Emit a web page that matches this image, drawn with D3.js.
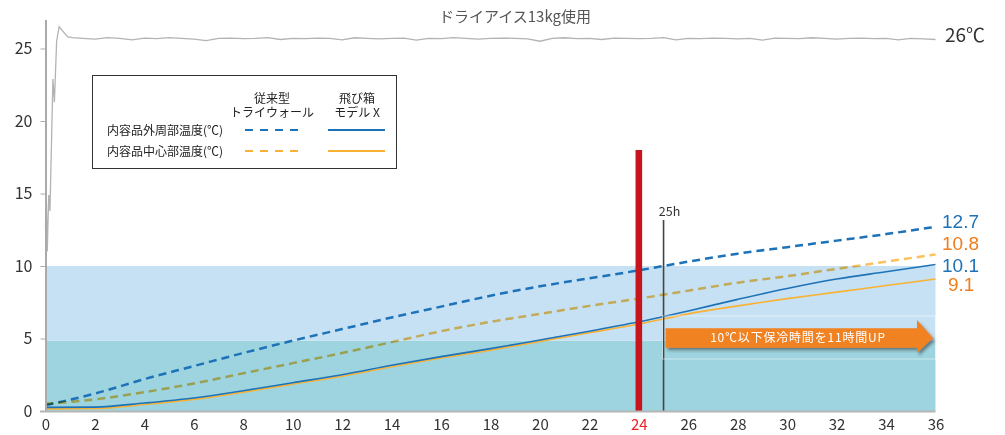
<!DOCTYPE html>
<html>
<head>
<meta charset="utf-8">
<script src="https://cdn.jsdelivr.net/npm/d3@7"></script>
<style>
  body { margin: 0; background: #fff; }
  svg { display: block; font-family: "Noto Sans CJK JP", "Noto Sans", sans-serif; }
</style>
</head>
<body>
<script>
// Chart settings
const width = 1005;
const height = 435;

// Data
const hours = [0, 2, 4, 6, 8, 10, 12, 14, 16, 18, 20, 22, 24, 26, 28, 30, 32, 34, 36];
const triwallOuter = [0.4, 1.2, 2.2, 3.1, 4.0, 4.85, 5.65, 6.45, 7.2, 7.95, 8.6, 9.15, 9.7, 10.3, 10.85, 11.3, 11.75, 12.2, 12.7];
const triwallCenter = [0.5, 0.8, 1.3, 1.9, 2.6, 3.3, 4.0, 4.75, 5.5, 6.15, 6.7, 7.25, 7.75, 8.3, 8.85, 9.3, 9.8, 10.3, 10.8];
const modelXOuter = [0.25, 0.27, 0.55, 0.9, 1.4, 1.95, 2.5, 3.15, 3.75, 4.3, 4.9, 5.5, 6.15, 6.9, 7.7, 8.45, 9.1, 9.6, 10.1];
const modelXCenter = [0.15, 0.17, 0.45, 0.8, 1.3, 1.85, 2.4, 3.05, 3.65, 4.2, 4.8, 5.4, 6.0, 6.7, 7.25, 7.75, 8.2, 8.65, 9.1];

// dry ice ambient temperature: start-up then every 0.5 h from 1.5 h
const dryIceStartT = [0, 0.02, 0.07, 0.13, 0.18, 0.3, 0.36, 0.45, 0.55, 0.7, 0.9, 1.1];
const dryIceStartV = [12.5, 15.9, 11.0, 14.9, 13.8, 22.9, 21.3, 25.5, 26.5, 26.2, 25.8, 25.75];
const dryIceV = [25.7, 25.65, 25.75, 25.7, 25.6, 25.72, 25.68, 25.75, 25.7, 25.65,
  25.55, 25.7, 25.72, 25.68, 25.7, 25.75, 25.62, 25.7, 25.68, 25.72,
  25.7, 25.6, 25.74, 25.7, 25.66, 25.7, 25.72, 25.58, 25.7, 25.68,
  25.75, 25.7, 25.64, 25.7, 25.72, 25.7, 25.66, 25.5, 25.7, 25.74,
  25.68, 25.7, 25.62, 25.72, 25.7, 25.68, 25.7, 25.75, 25.6, 25.7,
  25.68, 25.72, 25.7, 25.66, 25.7, 25.58, 25.72, 25.7, 25.68, 25.74,
  25.7, 25.64, 25.7, 25.72, 25.68, 25.7, 25.6, 25.7, 25.66, 25.62];

const xTicks = [0, 2, 4, 6, 8, 10, 12, 14, 16, 18, 20, 22, 24, 26, 28, 30, 32, 34, 36];
const yTicks = [0, 5, 10, 15, 20, 25];
const bands = [[0, 4.85, '#9dd4df'], [4.85, 10, '#c6e1f4']];

const blue = '#1d72b8';
const orange = '#f9b233';

const svg = d3.select('body')
              .append('svg')
              .attr('width', width)
              .attr('height', height);

const x = d3.scaleLinear().domain([0, 36]).range([45.5, 935.5]);
const y = d3.scaleLinear().domain([0, 27]).range([411, 19.5]);

// Background bands
svg.selectAll('rect.band')
   .data(bands)
   .enter()
   .append('rect')
   .attr('class', 'band')
   .attr('x', x(0))
   .attr('width', x(36) - x(0))
   .attr('y', d => y(d[1]))
   .attr('height', d => y(d[0]) - y(d[1]))
   .attr('fill', d => d[2]);

// Dry ice line
const dryIce = dryIceStartT.map((t, i) => [t, dryIceStartV[i]])
  .concat(dryIceV.map((v, i) => [1.5 + i * 0.5, v]));

const line = d3.line().x(d => x(d[0])).y(d => y(d[1]));
const smooth = d3.line().x(d => x(d[0])).y(d => y(d[1])).curve(d3.curveMonotoneX);

svg.append('path')
   .attr('d', line(dryIce))
   .attr('fill', 'none')
   .attr('stroke', '#b3b3b3')
   .attr('stroke-width', 1.3);

// Temperature series
const series = [
  { values: triwallOuter, color: blue, dash: '8,5', w: 2.5, blend: false },
  { values: triwallCenter, color: orange, dash: '8,5', w: 2.5, blend: true },
  { values: modelXCenter, color: orange, dash: null, w: 1.6, blend: false },
  { values: modelXOuter, color: blue, dash: null, w: 1.6, blend: false }
];

svg.selectAll('path.series')
   .data(series)
   .enter()
   .append('path')
   .attr('class', 'series')
   .attr('d', s => smooth(hours.map((h, i) => [h, s.values[i]])))
   .attr('fill', 'none')
   .attr('stroke', s => s.color)
   .attr('stroke-width', s => s.w)
   .attr('stroke-dasharray', s => s.dash)
   .style('mix-blend-mode', s => s.blend ? 'multiply' : null)
   .attr('opacity', s => s.blend ? 0.8 : 1);

// 24h red bar and 25h marker
svg.append('rect')
   .attr('x', x(24) - 3.3)
   .attr('width', 6.6)
   .attr('y', 150)
   .attr('height', y(0) - 150)
   .attr('fill', '#c8151d');

svg.append('line')
   .attr('x1', x(25)).attr('x2', x(25))
   .attr('y1', 220).attr('y2', y(0))
   .attr('stroke', '#444')
   .attr('stroke-width', 1.6);

svg.append('text')
   .attr('x', x(25) + 6)
   .attr('y', 216)
   .attr('text-anchor', 'middle')
   .style('font-size', '12.5px')
   .style('fill', '#333')
   .text('25h');

// Arrow annotation
const defs = svg.append('defs');
const f = defs.append('filter').attr('id', 'shadow')
              .attr('x', '-5%').attr('y', '-30%').attr('width', '115%').attr('height', '170%');
f.append('feDropShadow')
 .attr('dx', 2).attr('dy', 2.5).attr('stdDeviation', 1.4)
 .attr('flood-color', '#333').attr('flood-opacity', 0.55);

svg.append('rect')
   .attr('x', 662.5).attr('y', 316)
   .attr('width', x(36) - 662.5).attr('height', 43)
   .attr('fill', 'none')
   .attr('stroke', '#fff')
   .attr('stroke-opacity', 0.5);

const ax0 = x(25) + 2, ax1 = 917, tip = 933, ay = 338;
svg.append('path')
   .attr('d', `M${ax0},${ay - 9.7}H${ax1}V${ay - 18}L${tip},${ay}L${ax1},${ay + 15}V${ay + 9.7}H${ax0}Z`)
   .attr('fill', '#f08224')
   .attr('filter', 'url(#shadow)');

svg.append('text')
   .attr('x', 798)
   .attr('y', 342)
   .attr('text-anchor', 'middle')
   .style('font-size', '12px')
   .style('letter-spacing', '0.8px')
   .style('fill', '#fff')
   .text('10℃以下保冷時間を11時間UP');

// Axes
svg.append('g')
   .attr('transform', `translate(${x(0)}, 0)`)
   .call(d3.axisLeft(y).tickValues(yTicks).tickSize(5).tickSizeOuter(0).tickPadding(8))
   .call(g => g.select('.domain').attr('stroke', '#aaa').attr('stroke-width', 2))
   .call(g => g.selectAll('.tick line').attr('stroke', '#aaa'))
   .call(g => g.selectAll('.tick text')
               .style('font-size', '16px')
               .style('fill', '#333')
               .style('font-family', '"Noto Sans CJK JP", sans-serif'));

svg.append('line')
   .attr('x1', 40).attr('x2', x(36))
   .attr('y1', y(0) + 0.5).attr('y2', y(0) + 0.5)
   .attr('stroke', '#b5b5b5')
   .attr('stroke-width', 2);

svg.append('g')
   .attr('transform', `translate(0, ${y(0)})`)
   .call(d3.axisBottom(x).tickValues(xTicks).tickSize(0))
   .call(g => g.select('.domain').remove())
   .call(g => g.selectAll('.tick text')
               .attr('y', 18.5)
               .attr('dy', null)
               .style('font-size', '15px')
               .style('fill', d => d === 24 ? '#e8232a' : '#333')
               .style('font-family', '"Noto Sans CJK JP", sans-serif'));

// Title
svg.append('text')
   .attr('x', 515)
   .attr('y', 22)
   .attr('text-anchor', 'middle')
   .style('font-size', '15px')
   .style('fill', '#555')
   .text('ドライアイス13kg使用');

// End labels
svg.append('text')
   .attr('x', 945)
   .attr('y', 42)
   .style('font-size', '19px')
   .style('fill', '#333')
   .text('26℃');

const endLabels = [
  { text: '12.7', x: 942, y: 228, color: blue },
  { text: '10.8', x: 942, y: 250, color: '#f07d1b' },
  { text: '10.1', x: 942, y: 271.5, color: blue },
  { text: '9.1', x: 948, y: 291, color: '#f07d1b' }
];
svg.selectAll('text.end')
   .data(endLabels)
   .enter()
   .append('text')
   .attr('class', 'end')
   .attr('x', d => d.x)
   .attr('y', d => d.y)
   .style('font-family', '"Liberation Sans", Arial, sans-serif')
   .style('font-size', '19px')
   .style('fill', d => d.color)
   .text(d => d.text);

// Legend
const legend = svg.append('g');
legend.append('rect')
      .attr('x', 92.5).attr('y', 75.5)
      .attr('width', 304).attr('height', 93)
      .attr('fill', '#fff')
      .attr('stroke', '#333');

const legendHeads = [
  { lines: ['従来型', 'トライウォール'], cx: 272 },
  { lines: ['飛び箱', 'モデル X'], cx: 357 }
];
legendHeads.forEach(h => {
  const t = legend.append('text')
                  .attr('y', 103)
                  .attr('text-anchor', 'middle')
                  .style('font-size', '12px')
                  .style('fill', '#222');
  h.lines.forEach((s, i) => {
    t.append('tspan')
     .attr('x', h.cx)
     .attr('dy', i === 0 ? 0 : 14)
     .text(s);
  });
});

const legendRows = [
  { label: '内容品外周部温度(℃)', color: blue, y: 130 },
  { label: '内容品中心部温度(℃)', color: orange, y: 151 }
];
legendRows.forEach(r => {
  legend.append('text')
        .attr('x', 107).attr('y', r.y + 5)
        .style('font-size', '12px')
        .style('fill', '#222')
        .text(r.label);
  legend.append('line')
        .attr('x1', 245).attr('x2', 299)
        .attr('y1', r.y).attr('y2', r.y)
        .attr('stroke', r.color).attr('stroke-width', 2)
        .attr('stroke-dasharray', '8,7');
  legend.append('line')
        .attr('x1', 328).attr('x2', 385)
        .attr('y1', r.y).attr('y2', r.y)
        .attr('stroke', r.color).attr('stroke-width', 2);
});
</script>
</body>
</html>
